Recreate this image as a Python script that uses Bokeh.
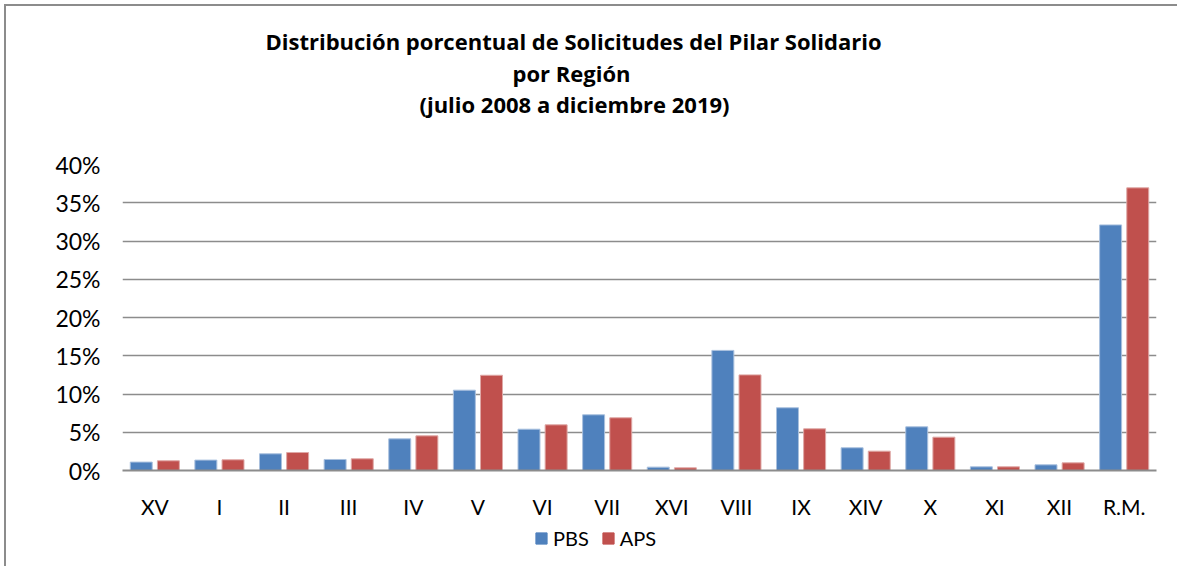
from bokeh.plotting import figure
from bokeh.layouts import column
from bokeh.models import (FactorRange, NumeralTickFormatter, Legend, LegendItem,
                          ColumnDataSource, FixedTicker, Range1d)
from bokeh.core.properties import value
from bokeh.transform import dodge
from bokeh.embed import file_html
from bokeh.resources import INLINE

regions = ["XV", "I", "II", "III", "IV", "V", "VI", "VII", "XVI", "VIII",
           "IX", "XIV", "X", "XI", "XII", "R.M."]
pbs = [0.011, 0.0136, 0.0218, 0.0144, 0.0414, 0.105, 0.054, 0.0728, 0.0044, 0.157,
       0.082, 0.0297, 0.0571, 0.0048, 0.0074, 0.321]
aps = [0.0127, 0.014, 0.0235, 0.0153, 0.0453, 0.1245, 0.0597, 0.0689, 0.0035, 0.125,
       0.0545, 0.0253, 0.0436, 0.0048, 0.010, 0.3695]
title_lines = ["Distribución porcentual de Solicitudes del Pilar Solidario",
               "por Región",
               "(julio 2008 a diciembre 2019)"]
series_names = ["PBS", "APS"]
colors = ["#4F81BD", "#C0504D"]
edge_colors = ["#a9c0de", "#dfa8a6"]

FONT = "Lato"
OX, OY = 8, 8                 # page offset of content
W = 1171
HT = 120                      # title strip height
H2 = 398                      # chart height
HL = 42                       # legend strip height
FL, FR, FT, FB = 124, 1158, 166, 472   # frame edges on the page
ML = FL - OX
MR = OX + W - FR
MT = FT - (OY + HT)
MB = (OY + HT + H2) - FB

# ---- title strip (its frame is aligned with the chart frame by the column) ----
t = figure(width=W, height=HT, x_range=Range1d(FL, FR), y_range=Range1d(OY + HT, OY),
           x_axis_type=None, y_axis_type=None,
           output_backend="svg", toolbar_location=None, min_border=0)
t.grid.visible = False
t.outline_line_color = None
tsrc = ColumnDataSource(dict(x=[575, 573, 576], y=[42, 74, 105], txt=title_lines))
t.text(x="x", y="y", text="txt", source=tsrc, text_align="center",
       text_baseline="middle", text_font=value("Open Sans"), text_font_size="22px",
       text_font_style="bold", text_color="black")

# ---- chart ----
src = ColumnDataSource(dict(region=regions, pbs=pbs, aps=aps))
p = figure(width=W, height=H2, x_range=FactorRange(*regions), y_range=(0, 0.40),
           output_backend="svg", toolbar_location=None,
           min_border_left=ML, min_border_right=MR, min_border_top=MT,
           min_border_bottom=MB)
p.x_range.range_padding = 0
p.outline_line_color = None

p.vbar(x=dodge("region", -0.21, range=p.x_range), top="pbs", width=0.34,
       source=src, fill_color=colors[0], line_color=edge_colors[0], line_width=1)
p.vbar(x=dodge("region", 0.21, range=p.x_range), top="aps", width=0.34,
       source=src, fill_color=colors[1], line_color=edge_colors[1], line_width=1)

p.yaxis.ticker = FixedTicker(ticks=[i * 0.05 for i in range(9)])
p.yaxis.formatter = NumeralTickFormatter(format="0%")
p.yaxis.axis_line_color = None
p.yaxis.major_tick_line_color = None
p.yaxis.minor_tick_line_color = None
p.yaxis.major_label_standoff = 16
p.yaxis.major_label_text_font = FONT
p.yaxis.major_label_text_font_size = "23px"
p.yaxis.major_label_text_color = "black"

p.xaxis.axis_line_color = "#8c8c8c"
p.xaxis.axis_line_width = 2
p.xaxis.major_tick_line_color = None
p.xaxis.minor_tick_line_color = None
p.xaxis.major_label_standoff = 17
p.xaxis.major_label_text_font = FONT
p.xaxis.major_label_text_font_size = "21px"
p.xaxis.major_label_text_color = "black"

p.xgrid.grid_line_color = None
p.ygrid.grid_line_color = "#8c8c8c"
p.ygrid.grid_line_width = 1.5

# ---- legend strip (dummy keys placed outside its visible range) ----
lg = figure(width=W, height=HL, x_range=Range1d(0, 1), y_range=Range1d(0, 1),
            x_axis_type=None, y_axis_type=None,
            output_backend="svg", toolbar_location=None, min_border=0)
lg.grid.visible = False
lg.outline_line_color = None
keysrc = ColumnDataSource(dict(x=[-10], y=[-10]))
k1 = lg.rect(x="x", y="y", width=1, height=1, source=keysrc,
             fill_color=colors[0], line_color=colors[0])
k2 = lg.rect(x="x", y="y", width=1, height=1, source=keysrc,
             fill_color=colors[1], line_color=colors[1])
legend = Legend(items=[LegendItem(label=series_names[0], renderers=[k1]),
                       LegendItem(label=series_names[1], renderers=[k2])],
                orientation="horizontal", location=(536 - FL, 16),
                glyph_width=14, glyph_height=14, label_text_font=FONT,
                label_text_font_size="20px", label_text_color="black",
                label_standoff=5, spacing=12,
                padding=0, margin=0, border_line_color=None,
                background_fill_alpha=0, label_height=20)
lg.add_layout(legend, "center")

layout = column(t, p, lg, spacing=0)
layout.styles = {"border-top": "2px solid #8c8c8c", "border-left": "2px solid #8c8c8c",
                 "margin-left": "4px", "margin-top": "4px"}

open("out.html", "w").write(file_html(layout, INLINE))
